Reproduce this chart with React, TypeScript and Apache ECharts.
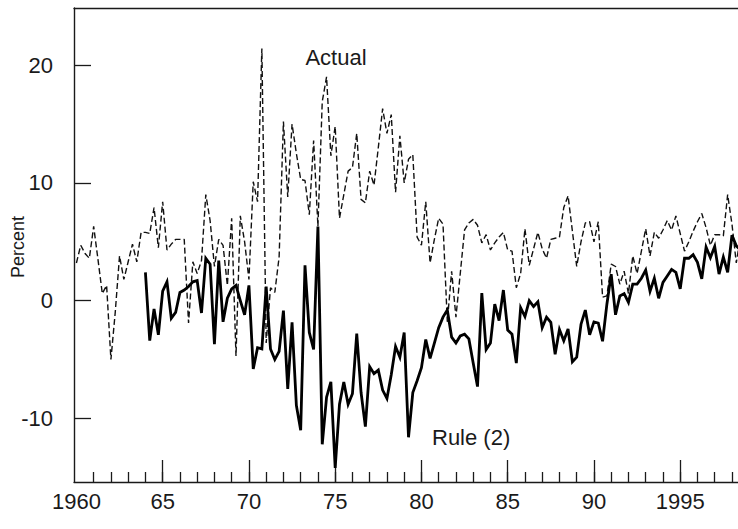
import { useEffect, useRef } from "react";
import * as echarts from "echarts";

// Quarterly growth rates, percent at annual rate
const ACTUAL_START = 1960;
const RULE_START = 1964;

const actual = [
  3.2, 4.7, 4.0, 3.6, 6.3, 3.5, 0.6, 1.3, -5.0, -1.0,
  3.8, 1.8, 3.3, 4.8, 3.3, 5.8, 5.8, 5.7, 7.9, 4.5,
  8.4, 4.3, 4.8, 5.2, 5.2, 5.2, -1.9, 3.3, 2.3, 3.4,
  9.0, 6.8, 2.9, 5.2, 4.7, 1.3, 7.0, -4.7, 7.2, 5.0,
  1.8, 10.1, 8.4, 21.4, -3.6, 1.1, 0.7, 3.7, 15.2, 8.8,
  15.0, 12.5, 10.3, 10.2, 7.3, 13.6, 6.3, 16.9, 19.0, 12.3,
  14.8, 7.0, 9.0, 11.0, 11.3, 14.2, 8.6, 8.3, 11.0, 9.8,
  13.0, 16.3, 14.2, 15.8, 9.2, 14.0, 10.0, 12.0, 12.4, 5.4,
  4.7, 8.4, 3.2, 5.2, 7.0, 6.5, -1.8, 2.5, -1.4, 2.3,
  6.0, 6.6, 6.9, 6.4, 4.9, 5.6, 4.3, 4.9, 5.4, 5.8,
  4.3, 4.2, 1.1, 2.3, 6.1, 3.0, 4.4, 5.8, 4.4, 3.6,
  5.2, 5.3, 5.4, 7.9, 8.9, 5.9, 2.9, 5.0, 6.6, 6.7,
  5.0, 6.7, 0.3, 0.4, 3.1, 2.9, 1.4, 2.5, 0.6, 3.8,
  2.3, 4.2, 6.1, 3.8, 5.8, 5.3, 6.0, 6.8, 6.0, 7.2,
  5.7, 4.2, 5.0, 5.9, 6.7, 7.4, 6.2, 4.7, 5.6, 5.6,
  5.5, 9.0, 6.5, 3.2, 5.5,
];

const rule2 = [
  2.4, -3.4, -0.7, -2.9, 0.8, 1.6, -1.5, -1.0, 0.7, 0.9,
  1.2, 1.6, 1.7, -1.05, 3.6, 3.1, -3.7, 3.4, -1.8, 0.2,
  1.0, 1.3, 0.0, -1.2, 1.3, -5.8, -4.0, -4.1, 1.2, -4.1,
  -5.0, -4.3, -0.85, -7.5, -1.85, -8.9, -11.0, 3.0, -2.7, -4.15,
  6.3, -12.2, -8.2, -6.9, -14.2, -8.8, -6.9, -8.8, -7.9, -2.8,
  -7.8, -10.7, -5.6, -6.2, -5.9, -7.6, -8.3, -6.3, -3.9, -4.8,
  -2.7, -11.6, -7.8, -6.8, -5.7, -3.3, -4.9, -3.6, -2.3, -1.4,
  -0.8, -3.1, -3.6, -3.0, -2.85, -3.25, -5.3, -7.3, 0.65, -4.15,
  -3.6, -0.3, -1.7, 0.9, -2.5, -2.85, -5.3, -0.6, -1.35, 0.0,
  -0.5, -0.1, -2.3, -1.4, -1.85, -4.55, -2.45, -3.4, -2.4, -5.2,
  -4.8, -2.0, -0.8, -2.9, -1.8, -1.9, -3.45, -0.3, 2.25, -1.2,
  0.4, 0.6, -0.15, 1.4, 1.4, 1.9, 2.6, 0.8, 1.9, 0.2,
  1.55, 2.1, 2.65, 2.4, 1.0, 3.6, 3.6, 3.9, 3.25, 1.85,
  4.55, 3.65, 4.6, 2.25, 3.7, 2.4, 5.55, 4.65, 4.3,
];

const yearTicks = [
  1961, 1962, 1963, 1964, 1965, 1966, 1967, 1968, 1969, 1970,
  1971, 1972, 1973, 1974, 1975, 1976, 1977, 1978, 1979, 1980,
  1981, 1982, 1983, 1984, 1985, 1986, 1987, 1988, 1989, 1990,
  1991, 1992, 1993, 1994, 1995, 1996, 1997, 1998,
];
const fiveYearTicks = [1965, 1970, 1975, 1980, 1985, 1990, 1995];
const xLabelYears = [1960, 1965, 1970, 1975, 1980, 1985, 1990, 1995];
const fullYearLabels = [1960, 1995];
const yTicks = [-10, 0, 10, 20];

const X_MIN = 1959.86;
const X_MAX = 1998.35;
const Y_MIN = -15.4;
const Y_MAX = 24.85;

const FONT = "'Liberation Sans', Arial, Helvetica, sans-serif";
const INK = "#1a1a1a";

const toQuarterly = (start: number, values: number[]) =>
  values.map((v, i) => [start + i / 4, v]);

export default function App() {
  const ref = useRef<HTMLDivElement>(null);

  useEffect(() => {
    document.body.style.margin = "0";
    if (!ref.current) return;
    const chart = echarts.init(ref.current, undefined, { renderer: "svg" });

    const axisLine = {
      show: true,
      onZero: false,
      lineStyle: { color: INK, width: 1.4 },
    };
    const tickStyle = { color: INK, width: 1.3 };

    chart.setOption({
      animation: false,
      backgroundColor: "#ffffff",
      grid: { left: 74, right: 0, top: 8, bottom: 47, containLabel: false },
      xAxis: [
        {
          type: "value",
          position: "bottom",
          min: X_MIN,
          max: X_MAX,
          axisLine,
          axisTick: {
            show: true,
            inside: true,
            length: 10,
            customValues: yearTicks,
            lineStyle: tickStyle,
          },
          axisLabel: {
            show: true,
            customValues: xLabelYears,
            margin: 8,
            fontSize: 22,
            fontFamily: FONT,
            color: INK,
            formatter: (v: number) => {
              const y = Math.round(v);
              return fullYearLabels.includes(y) ? String(y) : String(y).slice(2);
            },
          },
          splitLine: { show: false },
        },
        {
          type: "value",
          position: "bottom",
          min: X_MIN,
          max: X_MAX,
          axisLine: { show: false, onZero: false },
          axisTick: {
            show: true,
            inside: true,
            length: 22,
            customValues: fiveYearTicks,
            lineStyle: tickStyle,
          },
          axisLabel: { show: false },
          splitLine: { show: false },
        },
        {
          type: "value",
          position: "top",
          min: X_MIN,
          max: X_MAX,
          axisLine,
          axisTick: { show: false },
          axisLabel: { show: false },
          splitLine: { show: false },
        },
      ],
      yAxis: {
        type: "value",
        min: Y_MIN,
        max: Y_MAX,
        axisLine,
        axisTick: {
          show: true,
          inside: true,
          length: 17,
          customValues: yTicks,
          lineStyle: tickStyle,
        },
        axisLabel: {
          show: true,
          customValues: yTicks,
          margin: 21,
          fontSize: 22,
          fontFamily: FONT,
          color: INK,
        },
        splitLine: { show: false },
      },
      series: [
        {
          name: "Actual",
          type: "line",
          xAxisIndex: 0,
          data: toQuarterly(ACTUAL_START, actual),
          symbol: "none",
          clip: true,
          lineStyle: { color: "#111", width: 1.4, type: [6, 3] },
        },
        {
          name: "Rule (2)",
          type: "line",
          xAxisIndex: 0,
          data: toQuarterly(RULE_START, rule2),
          symbol: "none",
          clip: true,
          lineStyle: { color: "#000", width: 2.8, join: "miter" },
        },
      ],
      graphic: [
        {
          type: "text",
          x: 336,
          y: 57,
          style: {
            text: "Actual",
            fontSize: 22,
            fontFamily: FONT,
            fill: INK,
            align: "center",
            verticalAlign: "middle",
          },
        },
        {
          type: "text",
          x: 432,
          y: 437,
          style: {
            text: "Rule (2)",
            fontSize: 22,
            fontFamily: FONT,
            fill: INK,
            align: "left",
            verticalAlign: "middle",
          },
        },
        {
          type: "text",
          x: 18,
          y: 247,
          rotation: Math.PI / 2,
          style: {
            text: "Percent",
            fontSize: 18,
            fontFamily: FONT,
            fill: INK,
            align: "center",
            verticalAlign: "middle",
          },
        },
      ],
    });

    return () => chart.dispose();
  }, []);

  return <div ref={ref} style={{ width: 738, height: 529 }} />;
}
